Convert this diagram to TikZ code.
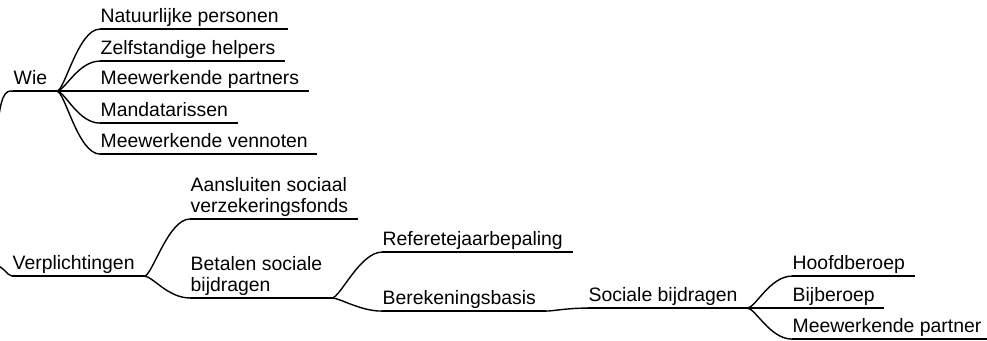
\documentclass[tikz,border=0pt]{standalone}
\usepackage{fontspec}
\setmainfont{Liberation Sans}
\newcommand\mapfont{\fontsize{9.7}{10.4}\selectfont}
\begin{document}
\begin{tikzpicture}[x=0.5pt, y=-0.5pt, line width=0.7pt,
  topic/.style={font=\mapfont, inner sep=0pt, anchor=base west, text depth=2.7pt},
  topictwo/.style={font=\mapfont, inner xsep=0pt, inner ysep=0.9pt, anchor=south west, align=left},
  branch/.style={to path={([xshift=4.5pt]\tikztostart.south east) .. controls +(8,0) and +(-22,0) .. (\tikztotarget.south west)}}]
\useasboundingbox (0,0) rectangle (987,341);
\clip (0,0) rectangle (987,341);
% wie
\node[topic] (wie) at (13,85) {Wie};
\node[topic] (nat) at (100,23) {Natuurlijke personen};
\node[topic] (zelf) at (100,55) {Zelfstandige helpers};
\node[topic] (meep) at (100,85) {Meewerkende partners};
\node[topic] (mand) at (100,117) {Mandatarissen};
\node[topic] (meev) at (100,148) {Meewerkende vennoten};
% verplichtingen
\node[topic] (verpl) at (12,270) {Verplichtingen};
\node[topictwo] (aans) at (190,219) {Aansluiten sociaal\ \\verzekeringsfonds};
\node[topictwo] (bet) at (190,298) {Betalen sociale\ \\bijdragen};
\node[topic] (ref) at (382,246) {Referetejaarbepaling};
\node[topic] (ber) at (382,305) {Berekeningsbasis};
\node[topic] (soc) at (588,302) {Sociale bijdragen};
\node[topic] (hoofd) at (792,270) {Hoofdberoep};
\node[topic] (bij) at (792,302) {Bijberoep};
\node[topic] (meew) at (792,333) {Meewerkende partner};
\coordinate (rootw) at (-3,135);
\coordinate (rootv) at (-4,266);
% underlines
\foreach \n in {wie,nat,zelf,meep,mand,meev,verpl,aans,bet,ref,ber,soc,hoofd,bij,meew}
  \draw (\n.south west) -- ([xshift=4.5pt]\n.south east);
% branches
\draw (rootw) .. controls (0,95) and (5,90) .. (wie.south west);
\draw (rootv) .. controls (4,266) and (6,275) .. (verpl.south west);
\foreach \a/\b in {wie/nat,wie/zelf,wie/meep,wie/mand,wie/meev,verpl/aans,verpl/bet,bet/ref,bet/ber,ber/soc,soc/hoofd,soc/bij,soc/meew}
  \draw (\a) to[branch] (\b);
\end{tikzpicture}
\end{document}
